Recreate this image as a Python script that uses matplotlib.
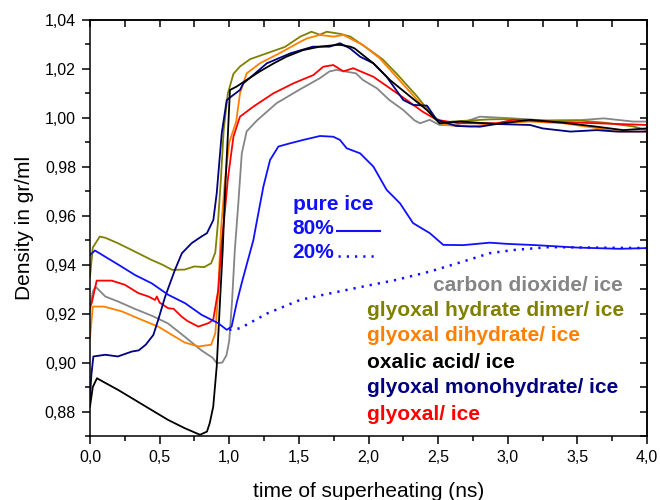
import matplotlib
matplotlib.use("Agg")
import matplotlib.pyplot as plt
from matplotlib.ticker import MultipleLocator, FuncFormatter

plt.rcParams['font.family'] = ['Liberation Sans', 'DejaVu Sans']

# ---------------- data ----------------
gray_x = [0, 0.02, 0.04, 0.11, 0.2, 0.32, 0.45, 0.56, 0.68, 0.80, 0.88, 0.91, 0.95, 0.98,
          1.0, 1.02, 1.04, 1.065, 1.09, 1.125, 1.2, 1.34, 1.5, 1.65, 1.72, 1.77, 1.84, 1.91,
          1.96, 2.06, 2.15, 2.25, 2.33, 2.37, 2.44, 2.51, 2.62, 2.8, 3.04, 3.28, 3.5, 3.69,
          3.9, 4.0]
gray_y = [0.921, 0.929, 0.931, 0.927, 0.925, 0.922, 0.919, 0.916, 0.9106, 0.905, 0.902,
          0.8998, 0.900, 0.903, 0.909, 0.925, 0.946, 0.965, 0.9855, 0.9945, 0.999, 1.006,
          1.0114, 1.0162, 1.019, 1.0196, 1.0189, 1.0182, 1.0155, 1.0121, 1.0073, 1.0032,
          0.999, 0.9978, 0.9992, 0.9971, 0.997, 1.0005, 0.9998, 0.9989, 0.999, 0.9998,
          0.9985, 0.9985]

olive_x = [0, 0.02, 0.07, 0.11, 0.2, 0.3, 0.44, 0.52, 0.59, 0.68, 0.75, 0.82, 0.87, 0.9,
           0.92, 0.94, 0.96, 0.99, 1.03, 1.077, 1.15, 1.27, 1.4, 1.51, 1.59, 1.65, 1.70, 1.8,
           1.87, 2.01, 2.1, 2.2, 2.35, 2.465, 2.54, 2.6, 2.87, 3.0, 3.28, 3.5, 3.7, 3.9, 4.0]
olive_y = [0.935, 0.947, 0.9515, 0.951, 0.9488, 0.946, 0.942, 0.940, 0.9379, 0.938, 0.9393,
           0.939, 0.9406, 0.945, 0.958, 0.975, 0.995, 1.010, 1.018, 1.021, 1.024, 1.0264,
           1.029, 1.0332, 1.0352, 1.034, 1.0352, 1.0343, 1.0332, 1.0277, 1.024, 1.0182,
           1.0087, 1.0005, 0.998, 0.9985, 0.9994, 0.9995, 0.9989, 0.999, 0.998, 0.9965, 0.995]

orange_x = [0, 0.02, 0.1, 0.23, 0.37, 0.49, 0.61, 0.68, 0.78, 0.87, 0.9, 0.92, 0.94, 0.97,
            1.0, 1.05, 1.077, 1.125, 1.22, 1.36, 1.51, 1.56, 1.65, 1.75, 1.82, 1.89, 1.96,
            2.08, 2.2, 2.35, 2.465, 2.54, 2.73, 2.92, 3.16, 3.4, 3.64, 3.81, 4.0]
orange_y = [0.910, 0.9229, 0.9229, 0.9209, 0.9175, 0.9147, 0.9106, 0.9082, 0.9066, 0.9073,
            0.912, 0.9284, 0.954, 0.975, 0.990, 0.9985, 1.010, 1.0182, 1.0223, 1.0264, 1.0311,
            1.0325, 1.0339, 1.0332, 1.0339, 1.0318, 1.0298, 1.0244, 1.0168, 1.0073, 1.0005,
            0.9971, 0.9964, 0.9978, 0.9985, 0.9978, 0.9958, 0.9944, 0.9944]

black_x = [0, 0.02, 0.05, 0.1, 0.2, 0.32, 0.44, 0.56, 0.68, 0.79, 0.84, 0.86, 0.885, 0.91,
           0.934, 0.953, 0.97, 0.99, 1.005, 1.053, 1.125, 1.22, 1.32, 1.41, 1.53, 1.65, 1.77,
           1.8, 1.87, 1.9, 2.035, 2.154, 2.3, 2.42, 2.51, 2.66, 2.92, 3.16, 3.4, 3.64, 3.83, 4.0]
black_y = [0.882, 0.890, 0.8936, 0.892, 0.8889, 0.8848, 0.8807, 0.8766, 0.8732, 0.8705,
           0.8718, 0.8753, 0.882, 0.8984, 0.9256, 0.946, 0.970, 0.993, 1.0114, 1.0128, 1.0155,
           1.019, 1.0223, 1.025, 1.0277, 1.0291, 1.0298, 1.0298, 1.0291, 1.0284, 1.0223,
           1.0155, 1.0087, 1.0032, 0.9978, 0.9985, 0.9975, 0.9992, 0.998, 0.9964, 0.995, 0.9957]

navy_x = [0, 0.01, 0.024, 0.11, 0.2, 0.3, 0.35, 0.4, 0.455, 0.49, 0.54, 0.61, 0.66, 0.73,
          0.8, 0.84, 0.886, 0.91, 0.946, 0.982, 1.03, 1.077, 1.1, 1.27, 1.44, 1.6, 1.72, 1.795,
          1.867, 1.94, 2.035, 2.13, 2.25, 2.32, 2.42, 2.49, 2.63, 2.8, 2.92, 3.16, 3.25, 3.45,
          3.64, 3.78, 4.0]
navy_y = [0.886, 0.895, 0.9025, 0.9032, 0.9025, 0.9045, 0.905, 0.9073, 0.9113, 0.9175,
          0.927, 0.9379, 0.9447, 0.9488, 0.9515, 0.9529, 0.9583, 0.9692, 0.9937, 1.0073,
          1.0094, 1.0114, 1.014, 1.0223, 1.0264, 1.0291, 1.0291, 1.0305, 1.0284, 1.025,
          1.0223, 1.0168, 1.0073, 1.0053, 1.005, 0.9992, 0.9967, 0.9964, 0.9975, 0.9971,
          0.9957, 0.9944, 0.995, 0.9944, 0.9944]

red_x = [0, 0.012, 0.048, 0.156, 0.25, 0.347, 0.42, 0.467, 0.48, 0.5, 0.562, 0.6, 0.658,
         0.7, 0.778, 0.85, 0.885, 0.921, 0.946, 0.969, 0.99, 1.005, 1.03, 1.077, 1.173, 1.316,
         1.46, 1.604, 1.675, 1.747, 1.82, 1.89, 2.035, 2.154, 2.274, 2.39, 2.49, 2.65, 2.92,
         3.04, 3.28, 3.64, 4.0]
red_y = [0.923, 0.9243, 0.9335, 0.9335, 0.9318, 0.9284, 0.927, 0.9256, 0.927, 0.9245,
         0.9222, 0.922, 0.9188, 0.917, 0.9147, 0.9161, 0.9175, 0.9297, 0.9488, 0.962, 0.975,
         0.9815, 0.9923, 1.0005, 1.0046, 1.010, 1.0141, 1.0175, 1.0209, 1.0216, 1.019, 1.0203,
         1.0168, 1.0121, 1.0073, 1.0025, 0.9992, 0.9978, 0.9978, 0.9992, 0.9985, 0.9978, 0.9971]

ice80_x = [0, 0.036, 0.108, 0.204, 0.323, 0.443, 0.562, 0.682, 0.802, 0.921, 0.982, 1.017,
           1.053, 1.089, 1.125, 1.173, 1.2, 1.245, 1.293, 1.353, 1.436, 1.532, 1.652, 1.747,
           1.795, 1.843, 1.94, 2.035, 2.13, 2.226, 2.32, 2.44, 2.537, 2.68, 2.87, 3.0, 3.2,
           3.5, 3.8, 4.0]
ice80_y = [0.944, 0.9458, 0.9433, 0.940, 0.9358, 0.9324, 0.9277, 0.9243, 0.9195, 0.9161,
           0.9134, 0.9147, 0.9243, 0.9324, 0.940, 0.950, 0.9583, 0.9719, 0.9828, 0.9883,
           0.9896, 0.991, 0.9926, 0.9923, 0.991, 0.9876, 0.9855, 0.9801, 0.9706, 0.9651,
           0.957, 0.9529, 0.9481, 0.948, 0.949, 0.9485, 0.948, 0.947, 0.9465, 0.9468]

ice20_x = [1.0, 1.077, 1.209, 1.269, 1.508, 1.70, 1.963, 2.2, 2.44, 2.68, 2.87, 3.04, 3.3,
           3.6, 4.0]
ice20_y = [0.9134, 0.914, 0.9181, 0.920, 0.9256, 0.928, 0.9311, 0.9338, 0.9372, 0.9413,
           0.9447, 0.946, 0.9472, 0.947, 0.9468]

labels = ["carbon dioxide/ ice", "glyoxal hydrate dimer/ ice", "glyoxal dihydrate/ ice",
          "oxalic acid/ ice", "glyoxal monohydrate/ ice", "glyoxal/ ice"]
colors = ["#858585", "#808000", "#ff8000", "#000000", "#000080", "#ff0000"]
blue = "#1010ff"

# ---------------- figure ----------------
fig = plt.figure(figsize=(6.6, 5.0), dpi=100)
ax = fig.add_axes([90/660, 1-436/500, (647-90)/660, (436-20)/500])

series = [(gray_x, gray_y), (olive_x, olive_y), (orange_x, orange_y),
          (red_x, red_y), (navy_x, navy_y), (black_x, black_y)]
series_cols = [colors[0], colors[1], colors[2], colors[5], colors[4], colors[3]]
for (xs, ys), c in zip(series, series_cols):
    ax.plot(xs, ys, color=c, lw=1.3)

ax.plot(ice80_x, ice80_y, color=blue, lw=1.3)
ax.plot(ice20_x, ice20_y, color=blue, lw=1.8, linestyle=(0, (0.9, 2.4)))

ax.set_xlim(0, 4)
ax.set_ylim(0.870, 1.040)

ax.xaxis.set_major_locator(MultipleLocator(0.5))
ax.xaxis.set_minor_locator(MultipleLocator(0.25))
ax.yaxis.set_major_locator(MultipleLocator(0.02))
ax.yaxis.set_minor_locator(MultipleLocator(0.01))
ax.xaxis.set_major_formatter(FuncFormatter(lambda v, p: f"{v:.1f}".replace('.', ',')))
ax.yaxis.set_major_formatter(FuncFormatter(lambda v, p: f"{v:.2f}".replace('.', ',')))

ax.tick_params(which='major', direction='out', length=6, width=1.1, labelsize=11.5, pad=4)
ax.tick_params(which='minor', direction='out', length=3.5, width=1.1)
for s in ax.spines.values():
    s.set_linewidth(1.1)

top = ax.secondary_xaxis('top')
top.xaxis.set_major_locator(MultipleLocator(0.25))
top.tick_params(direction='in', length=5, width=1.1, labeltop=False)
right = ax.secondary_yaxis('right')
right.yaxis.set_major_locator(MultipleLocator(0.01))
right.tick_params(direction='in', length=5, width=1.1, labelright=False)
for sa in (top, right):
    for s in sa.spines.values():
        s.set_linewidth(1.1)

ax.set_xlabel("time of superheating (ns)", fontsize=15, labelpad=12)
ax.set_ylabel("Density in gr/ml", fontsize=15, labelpad=8)

# pure ice legend
ax.text(1.458, 0.9644, "pure ice", color=blue, fontsize=15, fontweight='bold', va='center')
ax.text(1.451, 0.9550, "80%", color=blue, fontsize=15, fontweight='bold', va='center')
ax.plot([1.774, 2.083], [0.9538, 0.9538], color=blue, lw=1.5)
ax.text(1.451, 0.9448, "20%", color=blue, fontsize=15, fontweight='bold', va='center')
ax.plot([1.781, 2.047], [0.9436, 0.9436], color=blue, lw=1.8, linestyle=(0, (0.9, 2.4)))

# series labels
label_pos = [(2.463, 0.9313), (1.989, 0.9211), (1.989, 0.9109),
             (1.989, 0.8999), (1.989, 0.8897), (1.989, 0.8787)]
for t, c, (lx, ly) in zip(labels, colors, label_pos):
    ax.text(lx, ly, t, color=c, fontsize=15, fontweight='bold', va='center')

fig.savefig("out.png", dpi=100)
